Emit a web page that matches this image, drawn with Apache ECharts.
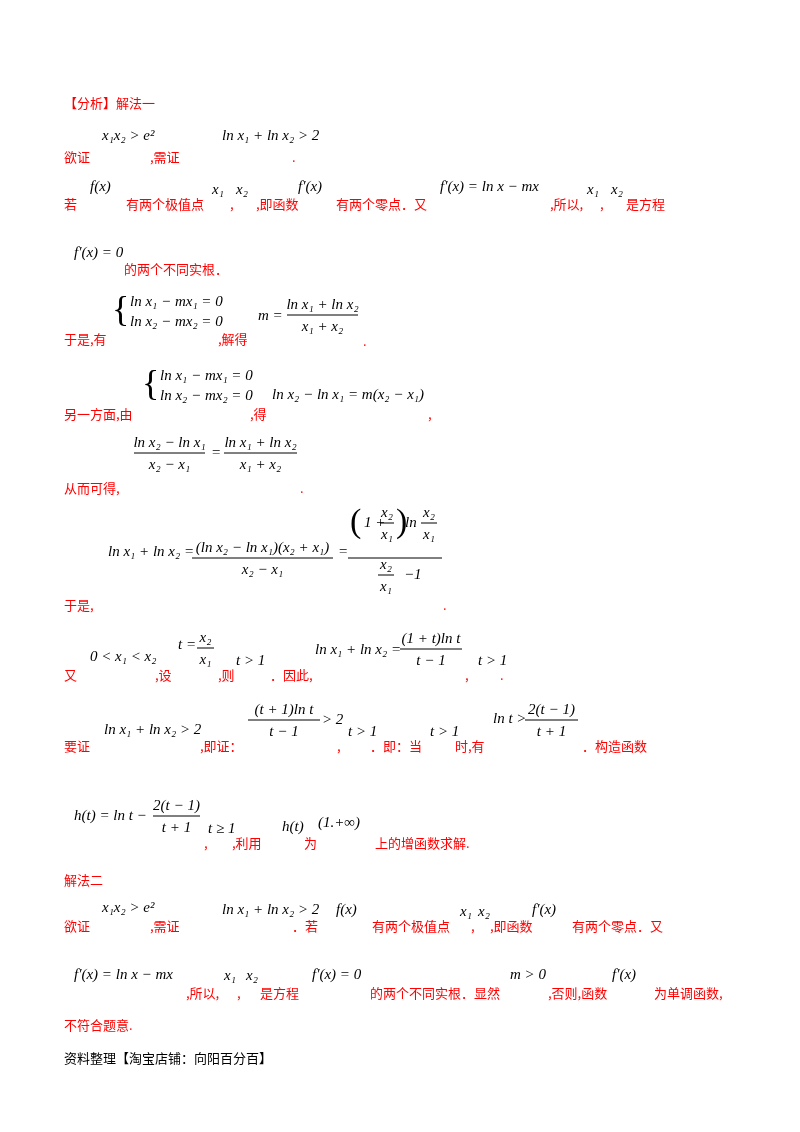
<!DOCTYPE html><html><head><meta charset="utf-8">
<script src="https://cdn.jsdelivr.net/npm/echarts@6/dist/echarts.min.js"></script>
<style>html,body{margin:0;background:#fff}#c{width:800px;height:1132px}</style></head><body><div id="c"></div>
<script>
// text segments: [x, y, text, kind]  r=red chinese, m=math, k=black
const segments = [
[64,103,'【分析】解法一','r'],
[102,136,'x₁x₂ > e²','m'],[64,157,'欲证','r'],[150,157,',需证','r'],[222,136,'ln x₁ + ln x₂ > 2','m'],[292,157,'.','r'],
[64,204,'若','r'],[90,187,'f(x)','m'],[126,204,'有两个极值点','r'],[212,190,'x₁','m'],[230,204,',','r'],[236,190,'x₂','m'],[256,204,',即函数','r'],[298,187,'f′(x)','m'],[336,204,'有两个零点．又','r'],[440,187,'f′(x) = ln x − mx','m'],[550,204,',所以,','r'],[587,190,'x₁','m'],[600,204,',','r'],[611,190,'x₂','m'],[626,204,'是方程','r'],
[74,253,'f′(x) = 0','m'],[124,269,'的两个不同实根．','r'],
[130,302,'ln x₁ − mx₁ = 0','m'],[130,322,'ln x₂ − mx₂ = 0','m'],[258,316,'m =','m'],[64,339,'于是,有','r'],[218,339,',解得','r'],[363,341,'.','r'],
[160,376,'ln x₁ − mx₁ = 0','m'],[160,396,'ln x₂ − mx₂ = 0','m'],[64,414,'另一方面,由','r'],[250,414,',得','r'],[272,395,'ln x₂ − ln x₁ = m(x₂ − x₁)','m'],[428,414,',','r'],
[211,453,'=','m'],[64,488,'从而可得,','r'],[300,488,'.','r'],
[108,552,'ln x₁ + ln x₂ =','m'],[338,552,'=','m'],[64,605,'于是,','r'],[443,605,'.','r'],
[90,657,'0 < x₁ < x₂','m'],[64,675,'又','r'],[155,675,',设','r'],[178,645,'t =','m'],[218,675,',则','r'],[236,661,'t > 1','m'],[270,675,'．因此,','r'],[315,650,'ln x₁ + ln x₂ =','m'],[465,675,',','r'],[478,661,'t > 1','m'],[500,675,'.','r'],
[64,746,'要证','r'],[104,730,'ln x₁ + ln x₂ > 2','m'],[200,746,',即证：','r'],[322,720,'> 2','m'],[337,746,',','r'],[348,732,'t > 1','m'],[370,746,'．即：当','r'],[430,732,'t > 1','m'],[455,746,'时,有','r'],[493,719,'ln t >','m'],[582,746,'．构造函数','r'],
[74,816,'h(t) = ln t −','m'],[204,843,',','r'],[208,829,'t ≥ 1','m'],[232,843,',利用','r'],[282,827,'h(t)','m'],[304,843,'为','r'],[318,823,'(1.+∞)','m'],[375,843,'上的增函数求解.','r'],
[64,880,'解法二','r'],
[64,926,'欲证','r'],[102,908,'x₁x₂ > e²','m'],[150,926,',需证','r'],[222,910,'ln x₁ + ln x₂ > 2','m'],[292,926,'．若','r'],[336,910,'f(x)','m'],[372,926,'有两个极值点','r'],[460,912,'x₁','m'],[471,926,',','r'],[478,912,'x₂','m'],[490,926,',即函数','r'],[532,910,'f′(x)','m'],[572,926,'有两个零点．又','r'],
[74,975,'f′(x) = ln x − mx','m'],[186,993,',所以,','r'],[224,976,'x₁','m'],[237,993,',','r'],[246,976,'x₂','m'],[260,993,'是方程','r'],[312,975,'f′(x) = 0','m'],[370,993,'的两个不同实根．显然','r'],[510,975,'m > 0','m'],[548,993,',否则,函数','r'],[612,975,'f′(x)','m'],[654,993,'为单调函数,','r'],
[64,1025,'不符合题意.','r'],
[64,1058,'资料整理【淘宝店铺：向阳百分百】','k'],
// nested fraction pieces (line 8)
[364,523,'1 +','m'],[405,523,'ln','m'],[404,575,'−1','m']
];
// fractions: [x1, x2, yLine, numerator, denominator]
const fractions = [
[287,358,315,'ln x₁ + ln x₂','x₁ + x₂'],
[134,205,453,'ln x₂ − ln x₁','x₂ − x₁'],
[224,297,453,'ln x₁ + ln x₂','x₁ + x₂'],
[192,333,558,'(ln x₂ − ln x₁)(x₂ + x₁)','x₂ − x₁'],
[348,442,558,'',''],
[380,394,523,'x₂','x₁'],
[421,437,523,'x₂','x₁'],
[378,394,575,'x₂','x₁'],
[197,214,648,'x₂','x₁'],
[400,462,649,'(1 + t)ln t','t − 1'],
[248,320,720,'(t + 1)ln t','t − 1'],
[525,578,720,'2(t − 1)','t + 1'],
[153,200,816,'2(t − 1)','t + 1']
];
// large glyphs: [x, y, text, size]
const glyphs = [[112,312,'{',36],[142,386,'{',36],[350,523,'(',34],[396,523,')',34]];

const serif='"Liberation Serif","DejaVu Serif",serif', cjk='"Noto Sans CJK SC",sans-serif';
const g=[];
function txt(x,y,s,kind,align){
  const m=kind==='m';
  g.push({type:'text',x:x,y:y,style:{text:s,fill:kind==='r'?'#ff0000':'#000',font:(m?'italic 15px ':'13px ')+(m?serif:cjk),textAlign:align||'left',textVerticalAlign:'middle'}});
}
segments.forEach(s=>txt(s[0],s[1],s[2],s[3]));
fractions.forEach(f=>{
  const cx=(f[0]+f[1])/2;
  g.push({type:'line',shape:{x1:f[0],y1:f[2],x2:f[1],y2:f[2]},style:{stroke:'#000',lineWidth:1}});
  if(f[3])txt(cx,f[2]-10,f[3],'m','center');
  if(f[4])txt(cx,f[2]+12,f[4],'m','center');
});
glyphs.forEach(q=>g.push({type:'text',x:q[0],y:q[1],style:{text:q[2],fill:'#000',font:q[3]+'px '+serif,textVerticalAlign:'middle'}}));
const chart=echarts.init(document.getElementById('c'));
chart.setOption({backgroundColor:'#fff',graphic:g});
</script></body></html>
